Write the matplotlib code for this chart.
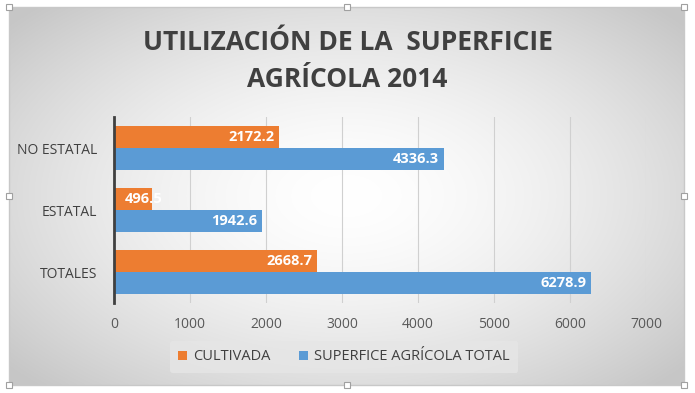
import numpy as np
import matplotlib
matplotlib.use("Agg")
import matplotlib.pyplot as plt
from matplotlib.patches import Rectangle

categories = ["TOTALES", "ESTATAL", "NO ESTATAL"]
cultivada = [2668.7, 496.5, 2172.2]
superficie = [6278.9, 1942.6, 4336.3]
series_names = ["CULTIVADA", "SUPERFICE AGRÍCOLA TOTAL"]
xticks = [0, 1000, 2000, 3000, 4000, 5000, 6000, 7000]
title = "UTILIZACIÓN DE LA  SUPERFICIE\nAGRÍCOLA 2014"

W, H = 695, 393
fig = plt.figure(figsize=(W / 100, H / 100), dpi=100)
fig.patch.set_facecolor("white")

# background gradient (chart area)
bx0, bx1, by0, by1 = 9, 684, 7, 385
bg = fig.add_axes([bx0 / W, 1 - by1 / H, (bx1 - bx0) / W, (by1 - by0) / H])
yy, xx = np.mgrid[-1:1:200j, -1:1:400j]
r = np.sqrt((xx * 0.95) ** 2 + (yy * 0.9) ** 2)
val = 1.0 - 0.22 * np.clip(r / 1.25, 0, 1) ** 1.6
img = np.dstack([val, val, val])
bg.imshow(img, aspect="auto", extent=[0, 1, 0, 1], interpolation="bilinear")
bg.set_xlim(0, 1); bg.set_ylim(0, 1)
bg.axis("off")
fig.add_artist(Rectangle((bx0 / W, 1 - by1 / H), (bx1 - bx0) / W, (by1 - by0) / H,
                         transform=fig.transFigure, fill=False, ec="#c8c8c8", lw=1))
# selection handles
for hx, hy in [(bx0, by0), (347, by0), (bx1, by0), (bx0, 196), (bx1, 196),
               (bx0, by1), (347, by1), (bx1, by1)]:
    fig.add_artist(Rectangle(((hx - 3) / W, 1 - (hy + 3) / H), 6 / W, 6 / H,
                             transform=fig.transFigure, fc="white", ec="#a0a0a0", lw=0.8, zorder=10))

ax = fig.add_axes([114 / W, 1 - 303 / H, (646 - 114) / W, (303 - 117) / H])
ax.patch.set_alpha(0)
y = np.arange(len(categories))
h = 0.355
ax.barh(y + h / 2, cultivada, height=h, color="#ED7D31", label=series_names[0], zorder=3)
ax.barh(y - h / 2, superficie, height=h, color="#5B9BD5", label=series_names[1], zorder=3)

lab_font = dict(color="white", fontsize=10.5, fontweight="bold", family="Open Sans",
                va="center", zorder=4)


def put_label(v, yc):
    if v < 900:
        ax.text(140, yc, f"{v:.1f}", ha="left", **lab_font)
    else:
        ax.text(v - 60, yc, f"{v:.1f}", ha="right", **lab_font)


for i in range(len(categories)):
    put_label(cultivada[i], y[i] + h / 2)
    put_label(superficie[i], y[i] - h / 2)

ax.set_xlim(0, 7000)
ax.set_ylim(-0.5, 2.5)
ax.set_xticks(xticks)
ax.set_xticklabels([str(t) for t in xticks], fontsize=10, color="#595959", family="Open Sans")
ax.set_yticks(y)
ax.set_yticklabels(categories, fontsize=10, color="#404040", family="Open Sans")
ax.tick_params(length=0, pad=12)
ax.tick_params(axis="x", pad=10)
ax.grid(axis="x", color="#d0d0d0", lw=0.8, zorder=0)
for s in ["top", "right", "bottom"]:
    ax.spines[s].set_visible(False)
ax.spines["left"].set_color("#404040")
ax.spines["left"].set_linewidth(2)
ax.spines["left"].set_zorder(5)

fig.text(0.5, 1 - 61 / H, title, ha="center", va="center", fontsize=19, fontweight="bold",
         color="#404040", family="Open Sans", linespacing=1.45)

handles, labels = ax.get_legend_handles_labels()
leg = fig.legend(handles, labels, loc="center", bbox_to_anchor=(344 / W, 1 - 357 / H), ncol=2,
                 frameon=True, fontsize=10.5, handlelength=0.6, handleheight=0.6,
                 handletextpad=0.4, columnspacing=2.0, borderpad=0.6)
leg.get_frame().set_facecolor("#e6e6e6")
leg.get_frame().set_edgecolor("none")
leg.get_frame().set_alpha(0.8)
for t in leg.get_texts():
    t.set_color("#404040")
    t.set_family("Open Sans")

fig.savefig("out.png", dpi=100)
